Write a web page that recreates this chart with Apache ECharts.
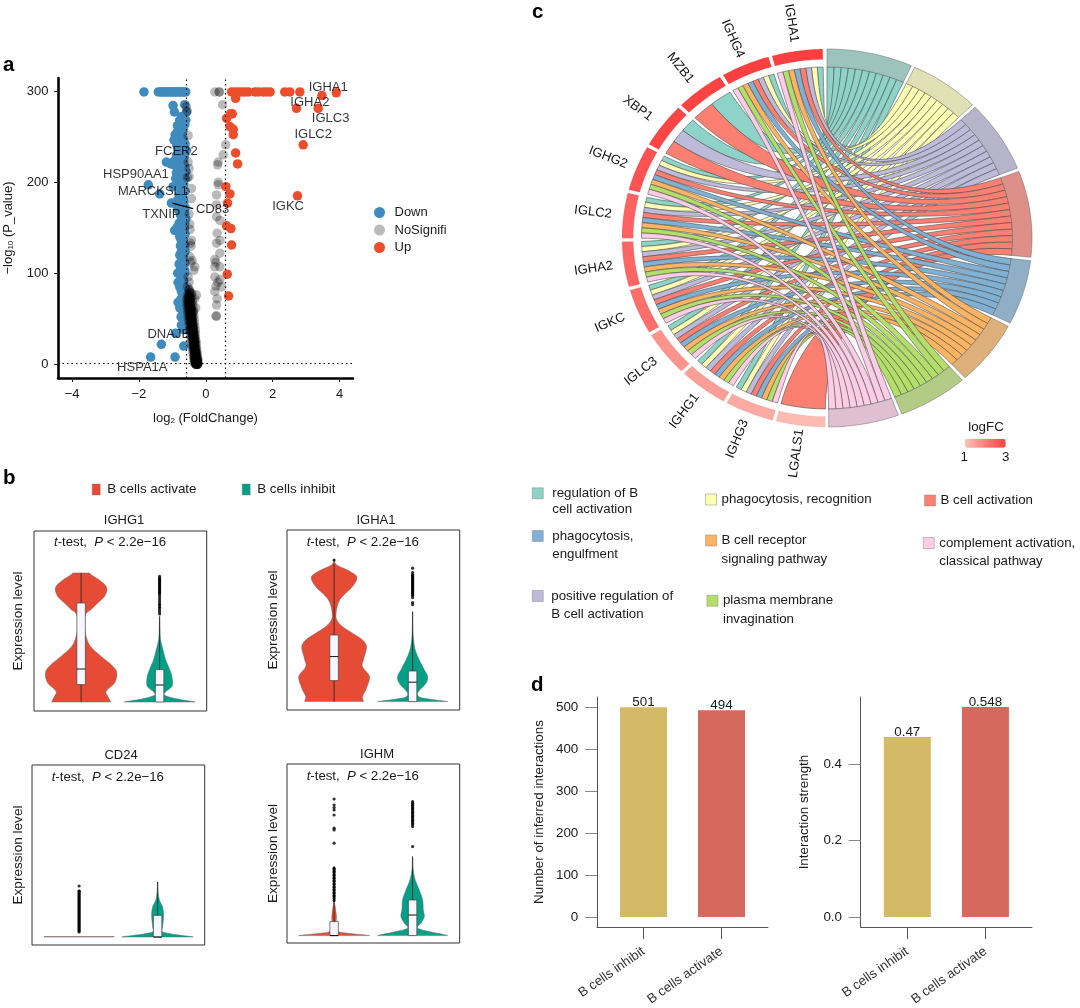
<!DOCTYPE html>
<html>
<head>
<meta charset="utf-8">
<style>html,body{margin:0;padding:0;background:#fff}#c{width:1080px;height:1008px}</style>
<script src="https://cdn.jsdelivr.net/npm/echarts@6/dist/echarts.min.js"></script>
</head>
<body>
<div id="c"></div>
<script>
const FONT = '"Liberation Sans", Arial, sans-serif';
// ---------- panel a: volcano ----------
const volcanoUp = [[.77,299],[.87,299],[.97,299],[1.07,299],[1.17,299],[1.27,299],[1.47,299],[1.57,299],[1.72,299],[1.82,299],[1.92,299],[2.36,299],[2.51,299],[2.81,299],[3.9,298],[3.47,295],[.89,292],[2.71,281],[3.36,281],[.74,275],[.79,275],[.62,270],[.72,261],[.82,258],[.82,252],[2.91,241],[.89,232],[.95,220],[.6,195],[.72,187],[2.74,185],[.65,177],[.62,152],[.75,149],[.77,131],[.64,99],[.68,75]];
const volcanoDown = [[-1.85,299],[-1.42,299],[-1.35,299],[-1.3,299],[-1.25,299],[-1.2,299],[-1.15,299],[-1.1,299],[-1.05,299],[-1,299],[-.95,299],[-.9,299],[-.85,299],[-.8,299],[-.75,299],[-.7,299],[-.65,299],[-.6,299],[-.98,284],[-.94,277],[-.63,285],[-.58,277],[-.7,266],[-.63,263],[-.67,258],[-.78,255],[-.72,252],[-.88,248],[-.68,248],[-.8,244],[-.73,239],[-.62,242],[-.58,235],[-.7,232],[-.64,228],[-1.18,222],[-.98,222],[-.85,226],[-.73,222],[-.63,217],[-.75,214],[-.88,210],[-.68,208],[-.62,204],[-1.72,197],[-1.38,187],[-.98,195],[-.68,191],[-.8,199],[-.74,184],[-1.03,177],[-.85,180],[-.78,174],[-.66,178],[-.63,166],[-.72,170],[-.73,158],[-.63,155],[-.66,162],[-.93,147],[-.73,146],[-.64,149],[-.73,136],[-.66,141],[-.63,131],[-.7,127],[-.73,124],[-.66,119],[-.73,114],[-.63,111],[-.68,106],[-.78,102],[-.63,100],[-.7,95],[-.83,90],[-.68,89],[-.62,84],[-.73,80],[-.66,75],[-.83,68],[-.63,67],[-.7,62],[-.68,56],[-.62,50],[-.73,43],[-.91,34],[-.66,38],[-1.33,22],[-.66,20],[-1.65,8],[-.92,8],
[-.85,262],[-.78,268],[-.72,272],[-.66,270],[-.6,268],[-.92,252],[-.84,256],[-.76,260],[-.95,246],[-.87,241],[-.78,247],[-.7,244],[-.64,236],[-.82,236],[-.76,232],[-.88,229],[-.8,227],[-.72,226],[-.66,222],[-1.05,220],[-.92,218],[-.82,216],[-.7,218],[-.6,212],[-.9,204],[-.82,206],[-.74,204],[-.66,198],[-.84,196],[-.76,193],[-.7,187],[-.62,190],[-.8,186],[-.68,182],[-.9,176],[-.72,178],[-.62,172],[-.84,170],[-.76,164],[-.68,168],[-.6,160],[-.8,155],[-.7,152],[-.86,150],[-.62,143],[-.78,140],[-.68,136],[-.76,130],[-.68,130],[-.62,124],[-.78,120],[-.7,116],[-.8,110],[-.72,107],[-.64,104],[-.84,100],[-.74,97],[-.66,92],[-.78,85],[-.7,82],[-.64,78],[-.74,72],[-.67,68],[-.78,62],[-.64,58],[-.74,52],[-.66,46]];
const volcanoNoSig = [[.27,299],[.4,299],[.4,299],[.5,285],[.59,241],[.52,230],[.37,222],[.35,219],[.37,200],[.37,197],[.32,186],[.32,175],[.32,162],[.42,158],[.34,144],[.32,133],[.42,136],[.42,122],[.27,115],[.27,107],[.3,112],[.42,107],[.27,96],[.42,93],[.36,90],[.47,85],[.27,80],[.3,86],[.32,65],[.34,72],[.32,53],[.3,53],[-.53,251],[-.58,283],[-.55,278],[-.53,222],[-.5,215],[-.55,205],[-.5,206],[-.43,193],[-.43,182],[-.5,165],[-.48,154],[-.47,148],[-.43,136],[-.46,133],[-.44,130],[-.48,118],[-.45,112],[-.41,114],[-.33,107],[-.36,103],[-.53,96],[-.5,90],[-.55,85],[-.28,76],[-.33,72],[-.42,78],[-.45,72],[-.3,62],[-.37,58]];
const volcanoCore = [[-.27,0],[-.25,0],[-.3,0],[-.26,0],[-.29,0],[-.28,1],[-.26,1],[-.29,1],[-.31,1],[-.27,1],[-.27,2],[-.3,2],[-.25,2],[-.28,3],[-.32,3],[-.26,3],[-.29,4],[-.27,4],[-.31,5],[-.27,5],[-.3,6],[-.33,6],[-.28,7],[-.31,8],[-.29,9],[-.33,9],[-.3,10],[-.34,11],[-.31,12],[-.29,12],[-.33,13],[-.3,14],[-.35,15],[-.32,15],[-.34,17],[-.31,18],[-.36,18],[-.33,20],[-.37,21],[-.35,22],[-.32,23],[-.38,24],[-.35,25],[-.33,26],[-.39,27],[-.36,28],[-.34,29],[-.4,30],[-.37,31],[-.35,32],[-.41,33],[-.38,34],[-.36,35],[-.42,36],[-.39,37],[-.37,38],[-.43,39],[-.4,40],[-.38,41],[-.44,42],[-.41,43],[-.39,44],[-.45,45],[-.42,46],[-.4,47],[-.46,48],[-.43,49],[-.41,50],[-.47,51],[-.44,52],[-.41,53],[-.48,54],[-.45,55],[-.42,56],[-.49,57],[-.46,58],[-.43,59],[-.5,60],[-.47,61],[-.44,62],[-.5,63],[-.47,64],[-.52,65],[-.48,66],[-.45,67],[-.5,68],[-.53,69],[-.47,70],[-.5,71],[-.48,72],[-.52,73],[-.49,75],[-.51,77],[-.48,79],[-.5,82]];
const volcanoCoreWide = [[-.23,0],[-.33,1],[-.24,2],[-.34,3],[-.23,4],[-.35,5],[-.24,6],[-.36,7],[-.25,8],[-.37,9],[-.26,10],[-.38,12],[-.26,13],[-.39,15],[-.27,16],[-.4,18],[-.28,19],[-.42,21],[-.28,23],[-.43,25],[-.3,26],[-.44,28],[-.31,30],[-.46,32],[-.31,34],[-.47,36],[-.32,38],[-.48,40],[-.33,42],[-.5,44],[-.34,46],[-.52,48],[-.35,50],[-.53,52],[-.36,54],[-.54,56],[-.37,58],[-.55,60],[-.38,62],[-.56,64],[-.39,66],[-.56,68],[-.4,70],[-.57,72],[-.42,74],[-.55,76],[-.44,78],[-.3,3],[-.28,6],[-.32,11],[-.36,24],[-.39,33],[-.42,44],[-.44,54],[-.47,62],[-.49,70]];
const volcanoLabels = [['IGHA1',3.66,304],['IGHA2',3.11,288],['IGLC3',3.73,270],['IGLC2',3.21,252],['FCER2',-.88,234],['HSP90AA1',-2.09,209],['MARCKSL1',-1.58,190],['CD83',.2,170],['TXNIP',-1.33,165],['IGKC',2.46,173],['DNAJB1',-1.0,33],['HSPA1A',-1.9,-3]];
const connector = [[-1.0,177],[-.38,171]];
// ---------- panel b: violins (level, relative half width) ----------
const violinPanels = ['IGHG1','IGHA1','CD24','IGHM'];
const igHG1Act = [[0,.88],[.28,.8],[.53,.75],[.95,1],[1.45,1.07],[1.78,.95],[2.28,.6],[2.78,.28],[3.28,.15],[3.78,.1],[4.12,.09],[4.45,.16],[4.62,.3],[4.95,.5],[5.28,.7],[5.7,.77],[6.03,.6],[6.45,.25]];
const igHG1Inh = [[0,1.06],[.1,.7],[.2,.4],[.33,.16],[.45,.15],[.78,.37],[1.28,.37],[1.62,.3],[2.12,.18],[2.62,.1],[3.12,.03],[3.62,.012],[4.28,.005]];
const igHA1Act = [[0,.88],[.25,.85],[.58,.95],[1.25,1.06],[1.75,.85],[2.08,.88],[2.75,.97],[3.08,.85],[3.42,.55],[3.75,.25],[4.08,.08],[4.42,.06],[4.92,.12],[5.25,.25],[5.75,.55],[6.25,.68],[6.58,.4],[6.83,.08],[7.08,.01]];
const igHA1Inh = [[0,1.05],[.1,.6],[.2,.25],[.33,.15],[.5,.18],[.92,.4],[1.25,.45],[1.58,.35],[2.08,.2],[2.58,.08],[3.08,.03],[3.58,.01],[4.5,.004]];
const cd24Act = [[0,1.05],[.02,1.05]];
const cd24Inh = [[0,1.07],[.13,.5],[.25,.15],[.5,.15],[1.08,.18],[1.5,.15],[1.83,.06],[2.17,.02],[2.75,.005]];
const ighmAct = [[0,1.06],[.12,.4],[.2,.12],[.45,.06],[.95,.07],[1.37,.04],[1.7,.01],[3.45,.003]];
const ighmInh = [[0,1.05],[.2,.5],[.37,.15],[.62,.25],[.95,.35],[1.28,.32],[1.78,.3],[2.28,.2],[2.78,.08],[3.28,.02],[3.95,.005]];
const violinProfiles = [[igHG1Act,igHG1Inh],[igHA1Act,igHA1Inh],[cd24Act,cd24Inh],[ighmAct,ighmInh]];
// whiskerLow, q1, median, q3, whiskerHigh ; null = no box
const violinBoxes = [
  [[0,.87,1.65,4.95,6.45],[0,0,.85,1.62,4.28]],
  [[0,1.05,2.25,3.33,6.9],[0,0,.97,1.53,4.5]],
  [null,[0,0,0,1.08,2.75]],
  [[0,0,0,.7,3.45],[0,0,1.03,1.78,3.95]]
];
const outG1Inh = [6.28,6.2,6.15,6.1,6.05,6,5.95,5.9,5.85,5.8,5.75,5.7,5.65,5.6,5.55,5.5,5.45,5.4,5.3,5.2,5.1,5,4.9,4.85,4.75,4.7,4.6,4.5,4.4];
const outA1Act = [7.08];
const outA1Inh = [6.67,6.45,6.35,6.3,6.25,6.2,6.15,6.1,6.05,6,5.95,5.9,5.85,5.8,5.75,5.7,5.65,5.6,5.55,5.5,5.45,5.4,5.35,5.3,5.2,4.95,4.85];
const outCD24Act = [2.55,2.3,2.3,2.25,2.2,2.15,2.1,2.05,2,1.95,1.9,1.85,1.8,1.75,1.7,1.65,1.6,1.55,1.5,1.45,1.4,1.35,1.3,1.25,1.2,1.15,1.1,1.05,1,.95,.9,.85,.8,.75,.7,.65,.6,.55,.5,.45,.4,.35,.3,.25];
const outM_Act = [6.83,6.53,6.4,6.28,6.03,5.37,5.28,4.62,3.37,3.3,3.22,3.15,3.05,3,2.9,2.85,2.75,2.7,2.6,2.55,2.45,2.4,2.3,2.25,2.15,2.1,2,1.95,1.85,1.75];
const outM_Inh = [6.7,6.62,6.55,6.5,6.42,6.35,6.3,6.22,6.15,6.1,6.02,5.95,5.9,5.82,5.75,5.7,5.62,5.55,5.45,4.45];
const violinOutliers = [[[],outG1Inh],[outA1Act,outA1Inh],[outCD24Act,[]],[outM_Act,outM_Inh]];
const violinGroups = ['B cells activate','B cells inhibit'];
// ---------- panel c: chord ----------
const terms = ['regulation of B cell activation','phagocytosis, recognition','positive regulation of B cell activation','B cell activation','phagocytosis, engulfment','B cell receptor signaling pathway','plasma membrane invagination','complement activation, classical pathway'];
const genes = ['IGHA1','IGHG4','MZB1','XBP1','IGHG2','IGLC2','IGHA2','IGKC','IGLC3','IGHG1','IGHG3','LGALS1'];
const logFC = [3,3,2.95,2.9,2.7,2.45,2.4,2.25,1.7,1.55,1.35,1.1];
const allTerms = [0,1,2,3,4,5,6,7];
const geneTerms = [allTerms,allTerms,[0,3],[0,2,3],allTerms,allTerms,allTerms,allTerms,allTerms,allTerms,allTerms,[3]];
// ---------- panel d: bars ----------
const barCats = ['B cells inhibit','B cells activate'];
const interactions = [501,494];
const strength = [0.47,0.548];

// ---------- styling (not data) ----------
const DOWN='#3F8BBD', UP='#EC4E2C';
const ACT='#E64B35', INH='#00A087';
const ribbonColors=['#8DD3C7','#FFFFB3','#BEBADA','#FB8072','#80B1D3','#FDB462','#B3DE69','#FCCDE5'];
const termRing=['#9CC4BC','#E0E0B4','#B6B4C9','#DE8F88','#90AEC6','#DDAF7B','#B2CB85','#DFBFD2'];
const BAR=['#D2BA67','#D6695E'];
const INK='#1a1a1a';
const violinRect=[[34,531],[287,530],[32,765],[287,764]];
const violinH=[180,180,180,179];
const violinMin=[-.45,-.42,-.4,-.37];
const violinNameGap=[9,7,7,7];
const titleXY=[[124,513.5],[376,513.5],[121,748.5],[377,747.5]];
const statXY=[[54,536],[306.7,536],[51.7,771],[306.7,770]];
// term index -> icon left, icon centre y, text nudge, line height
const legendPlace=[[532,493.3,4,16.5],[705.3,499.5,0,18],[532,596,3,18],[924.3,500.5,0,18],[532,536,4,18.5],[705.3,540.5,0,18.5],[706.7,600.7,0,18.5],[923,543,0,18.5]];
const legendText=['regulation of B\ncell activation','phagocytosis, recognition','positive regulation of\nB cell activation','B cell activation','phagocytosis,\nengulfment','B cell receptor\nsignaling pathway','plasma membrane\ninvagination','complement activation,\nclassical pathway'];

const grid=[],xAxis=[],yAxis=[],series=[],title=[],legend=[];
const addCart=(g,x,y)=>{grid.push(g);xAxis.push(Object.assign({gridIndex:grid.length-1},x));yAxis.push(Object.assign({gridIndex:grid.length-1},y));return grid.length-1;};

// panel a
const aTick={lineStyle:{color:'#222',width:1},length:4};
const nameRich={t:{fontFamily:FONT,fontSize:13,color:INK},s:{fontFamily:FONT,fontSize:8,color:INK,verticalAlign:'bottom',padding:[6,0,0,0]}};
const aIdx=addCart({left:58,top:78,width:295,height:300},
 {type:'value',min:-4.42,max:4.4,splitLine:{show:false},
  axisLine:{onZero:false,lineStyle:{color:'#000',width:2.6}},
  axisTick:Object.assign({customValues:[-4,-2,0,2,4]},aTick),
  axisLabel:{customValues:[-4,-2,0,2,4],fontFamily:FONT,fontSize:13,color:INK,margin:9.5,formatter:v=>String(v).replace('-','\u2212')},
  name:'{t|log}{s|2}{t| (FoldChange)}',nameLocation:'middle',nameGap:33,nameTextStyle:{rich:nameRich}},
 {type:'value',min:-15,max:314.3,splitLine:{show:false},
  axisLine:{onZero:false,lineStyle:{color:'#000',width:2.6}},
  axisTick:Object.assign({customValues:[0,100,200,300]},aTick),
  axisLabel:{customValues:[0,100,200,300],fontFamily:FONT,fontSize:13,color:INK,margin:9.5},
  name:'{t|\u2212log}{s|10}{t| (P_value)}',nameLocation:'middle',nameGap:43,nameTextStyle:{rich:nameRich}});
const scat=(name,data,color,op)=>({type:'scatter',name,xAxisIndex:aIdx,yAxisIndex:aIdx,data,symbolSize:9.5,itemStyle:{color,opacity:op},silent:true,animation:false});
const s1=scat('Down',volcanoDown,DOWN,1);
s1.markLine={silent:true,symbol:'none',animation:false,label:{show:false},lineStyle:{type:[1.5,3],color:'#000',width:1.2},data:[{xAxis:-.6},{xAxis:.59},{yAxis:1.3}]};
series.push(s1);
series.push(scat('NoSignifi',volcanoNoSig.concat(volcanoCore,volcanoCore,volcanoCoreWide),'#000',.27));
series.push(scat('Up',volcanoUp,UP,1));
series.push({type:'line',xAxisIndex:aIdx,yAxisIndex:aIdx,data:connector,symbol:'none',lineStyle:{color:'#000',width:1.2},silent:true,animation:false});
series.push({type:'scatter',xAxisIndex:aIdx,yAxisIndex:aIdx,symbolSize:1,itemStyle:{color:'transparent'},silent:true,animation:false,
 data:volcanoLabels.map(d=>({name:d[0],value:[d[1],d[2]]})),
 label:{show:true,position:'inside',formatter:'{b}',fontFamily:FONT,fontSize:13,color:'#000'}});
legend.push({data:[{name:'Down',icon:'circle'},{name:'NoSignifi',icon:'circle'},{name:'Up',icon:'circle'}],orient:'vertical',padding:0,left:374,top:206,itemWidth:20,itemHeight:11,itemGap:4.5,selectedMode:false,textStyle:{fontFamily:FONT,fontSize:13,color:INK}});

// panel b
const catmull=(pts,n)=>{const out=[];for(let i=0;i<pts.length-1;i++){const p0=pts[Math.max(i-1,0)],p1=pts[i],p2=pts[i+1],p3=pts[Math.min(i+2,pts.length-1)];
 for(let k=0;k<n;k++){const t=k/n,t2=t*t,t3=t2*t;const w=.5*((2*p1[1])+(-p0[1]+p2[1])*t+(2*p0[1]-5*p1[1]+4*p2[1]-p3[1])*t2+(-p0[1]+3*p1[1]-3*p2[1]+p3[1])*t3);out.push([p1[0]+(p2[0]-p1[0])*t,Math.max(w,0)]);}}
 out.push(pts[pts.length-1]);return out;};
const VK=.4255;
violinPanels.forEach((nm,pi)=>{
 const r=violinRect[pi];
 const idx=addCart({left:r[0],top:r[1],width:172.7,height:violinH[pi],show:true,borderColor:'#333',borderWidth:1,backgroundColor:'transparent'},
  {type:'value',min:.4,max:2.6,axisLine:{show:false},axisTick:{show:false},axisLabel:{show:false},splitLine:{show:false}},
  {type:'value',min:violinMin[pi],max:violinMin[pi]+violinH[pi]/20,axisLine:{show:false},axisTick:{show:false},axisLabel:{show:false},splitLine:{show:false},
   name:'Expression level',nameLocation:'middle',nameGap:violinNameGap[pi],nameTextStyle:{fontFamily:FONT,fontSize:13.6,color:INK}});
 title.push({text:nm,left:titleXY[pi][0],top:titleXY[pi][1],padding:0,textAlign:'center',textStyle:{fontFamily:FONT,fontSize:13,fontWeight:'normal',color:INK}});
 title.push({text:'{i|t}-test,  {i|P} < 2.2e\u221216',left:statXY[pi][0],top:statXY[pi][1],padding:0,textStyle:{fontFamily:FONT,fontSize:13.2,fontWeight:'normal',color:INK,rich:{i:{fontFamily:FONT,fontSize:13.2,fontStyle:'italic',color:INK}}}});
 [0,1].forEach(g=>{
  const prof=violinProfiles[pi][g],c=g+1,col=g?INH:ACT,box=violinBoxes[pi][g];
  series.push({type:'custom',name:violinGroups[g],xAxisIndex:idx,yAxisIndex:idx,data:[[c,0]],itemStyle:{color:col},silent:true,animation:false,clip:false,
   renderItem:(p,api)=>{
    const smooth=prof.length>2?catmull(prof,6):prof;
    const L=smooth.map(d=>api.coord([c-d[1]*VK,d[0]]));
    const R=smooth.map(d=>api.coord([c+d[1]*VK,d[0]])).reverse();
    const kids=[{type:'polygon',shape:{points:L.concat(R)},style:{fill:col,stroke:'#6b6b6b',lineWidth:.5}}];
    if(box){
     const w=.054;
     const a=api.coord([c,box[0]]),b=api.coord([c,box[4]]);
     kids.push({type:'line',shape:{x1:a[0],y1:a[1],x2:b[0],y2:b[1]},style:{stroke:'#222',lineWidth:.8}});
     const p1=api.coord([c-w,box[3]]),p2=api.coord([c+w,box[1]]);
     kids.push({type:'rect',shape:{x:p1[0],y:p1[1],width:p2[0]-p1[0],height:p2[1]-p1[1]},style:{fill:'#F6F6FF',stroke:'#444',lineWidth:.7}});
     const m1=api.coord([c-w,box[2]]),m2=api.coord([c+w,box[2]]);
     kids.push({type:'line',shape:{x1:m1[0],y1:m1[1],x2:m2[0],y2:m2[1]},style:{stroke:'#111',lineWidth:1}});
    }
    return {type:'group',children:kids};
   }});
  series.push({type:'scatter',xAxisIndex:idx,yAxisIndex:idx,data:violinOutliers[pi][g].map(v=>[c,v]),symbolSize:3.2,itemStyle:{color:'#000'},silent:true,animation:false});
 });
});
[[0,92],[1,242]].forEach(d=>legend.push({data:[{name:violinGroups[d[0]],icon:'rect'}],padding:0,left:d[1],top:483,itemWidth:8,itemHeight:11,selectedMode:false,textStyle:{fontFamily:FONT,fontSize:13.4,color:INK,padding:[0,0,0,2]},itemStyle:{borderColor:'#777',borderWidth:.4}}));

// panel c
const GENE_R0=.945,TERM_R0=.905,GAP=1.05,CURVE=.42;
const geneStart=a=>1.2+(180-1.2)/genes.length*a;
const termUnits=terms.map((t,j)=>geneTerms.filter(l=>l.includes(j)).length);
const unitDeg=(179.5-(terms.length-1)*GAP)/termUnits.reduce((a,b)=>a+b,0);
const termAng=[];let acc=0;termUnits.forEach(u=>{termAng.push([acc,acc+u*unitDeg]);acc+=u*unitDeg+GAP;});
const pol=(deg,r)=>{const a=deg*Math.PI/180;return [r*Math.sin(a),r*Math.cos(a)];};
const arcPts=(d0,d1,r,n)=>{const o=[];for(let i=0;i<=n;i++)o.push(pol(d0+(d1-d0)*i/n,r));return o;};
const bez=(a,b,n)=>{const o=[];for(let i=1;i<n;i++){const t=i/n,u=1-t,q=u*u*u+3*u*u*t*CURVE,w=t*t*t+3*u*t*t*CURVE;o.push([q*a[0]+w*b[0],q*a[1]+w*b[1]]);}return o;};
const termCursor=terms.map(()=>0);
const links=terms.map(()=>[]);
geneTerms.forEach((list,g)=>{
 const g0=geneStart(g)+ (g?GAP/2:0), g1=geneStart(g+1)-GAP/2;
 const w=(g1-g0)/list.length;
 list.forEach((j,k)=>{
  const t0=termAng[j][0]+termCursor[j]*unitDeg; termCursor[j]++;
  links[j].push({ga:-(g0+k*w),gb:-(g0+(k+1)*w),ta:t0,tb:t0+unitDeg});
 });
});
const cIdx=addCart({left:622,top:49,width:410,height:378},
 {type:'value',min:-1,max:1,show:false},{type:'value',min:-1,max:1,show:false});
terms.forEach((t,j)=>{
 series.push({type:'custom',name:t,xAxisIndex:cIdx,yAxisIndex:cIdx,data:links[j].map((l,i)=>[i,0]),itemStyle:{color:ribbonColors[j]},silent:true,animation:false,clip:false,z:3,
  renderItem:(p,api)=>{
   const l=links[j][api.value(0)];
   const A=arcPts(l.ga,l.gb,TERM_R0,5);
   const B=arcPts(l.tb,l.ta,TERM_R0,5);
   const pts=A.concat(bez(A[5],B[0],40),B,bez(B[5],A[0],40)).map(q=>api.coord(q));
   return {type:'polygon',shape:{points:pts},style:{fill:ribbonColors[j],stroke:'#444',lineWidth:.55}};
  }});
});
const ringSeries=(name,data,draw)=>({type:'custom',name,xAxisIndex:cIdx,yAxisIndex:cIdx,data,silent:true,animation:false,clip:false,z:4,renderItem:draw});
series.push(ringSeries('termRing',terms.map((t,j)=>[j,0]),(p,api)=>{
 const j=api.value(0),[a,b]=termAng[j];
 const pts=arcPts(a,b,1,30).concat(arcPts(b,a,TERM_R0,30)).map(q=>api.coord(q));
 return {type:'polygon',shape:{points:pts},style:{fill:termRing[j],stroke:'#6a6a6a',lineWidth:.5}};
}));
const geneRingIdx=series.length;
series.push(Object.assign(ringSeries('geneRing',genes.map((g,i)=>[i,logFC[i]]),(p,api)=>{
 const i=api.value(0);
 const a=geneStart(i)+(i?GAP/2:0),b=geneStart(i+1)-GAP/2;
 const pts=arcPts(-a,-b,1,24).concat(arcPts(-b,-a,GENE_R0,24)).map(q=>api.coord(q));
 return {type:'polygon',shape:{points:pts},style:{fill:api.visual('color'),stroke:'rgba(120,120,120,.35)',lineWidth:.3}};
}),{encode:{value:1}}));
series.push(ringSeries('geneLabel',genes.map((g,i)=>[i,0]),(p,api)=>{
 const i=api.value(0),mid=(geneStart(i)+geneStart(i+1))/2;
 const c=api.coord(pol(-mid,1.15));
 return {type:'text',x:c[0],y:c[1],rotation:(mid-90)*Math.PI/180,style:{text:genes[i],fontFamily:FONT,fontSize:13,fill:'#111',align:'center',verticalAlign:'middle'}};
}));
terms.forEach((t,ti)=>{
 const pl=legendPlace[ti];const two=legendText[ti].includes('\n');
 legend.push({data:[{name:t,icon:'rect'}],padding:0,left:pl[0],top:pl[1]-(two?pl[3]*1.5:pl[3]/2),itemWidth:11,itemHeight:11,itemGap:0,selectedMode:false,
  itemStyle:{borderColor:'#888',borderWidth:.5},
  formatter:()=>two?'\n'+legendText[ti]:legendText[ti],
  textStyle:{fontFamily:FONT,fontSize:13.3,color:INK,lineHeight:pl[3],padding:[0,0,0,pl[2]]}});
});

// panel d
const barAxisX=()=>({type:'value',min:.404,max:2.596,splitLine:{show:false},
 axisLine:{onZero:false,lineStyle:{color:'#555',width:1}},
 axisTick:{customValues:[1,2],length:12,lineStyle:{color:'#555'}},
 axisLabel:{customValues:[1,2],rotate:35,fontFamily:FONT,fontSize:13.3,color:'#333',margin:23,formatter:v=>barCats[v-1]}});
const barAxisY=(name,min,max,ticks,fmt,gap)=>({type:'value',min,max,splitLine:{show:false},
 axisLine:{onZero:false,lineStyle:{color:'#555',width:1}},
 axisTick:{customValues:ticks,length:12,lineStyle:{color:'#888'}},
 axisLabel:{customValues:ticks,fontFamily:FONT,fontSize:13.4,color:INK,margin:18.7,formatter:fmt},
 name,nameLocation:'middle',nameGap:gap,nameTextStyle:{fontFamily:FONT,fontSize:13.4,color:INK}});
const d1=addCart({left:597,top:697,width:171,height:230.7},barAxisX(),barAxisY('Number of inferred interactions',-23.8,525.5,[0,100,200,300,400,500],v=>String(v),51));
const d2=addCart({left:860.7,top:697,width:171.3,height:230.7},barAxisX(),barAxisY('Interaction strength',-.026,.5744,[0,.2,.4],v=>v.toFixed(1),50));
const bars=(idx,vals,fmt)=>({type:'bar',xAxisIndex:idx,yAxisIndex:idx,barWidth:47,silent:true,animation:false,
 data:vals.map((v,i)=>({value:[i+1,v],itemStyle:{color:BAR[i]}})),
 label:{show:true,position:'top',distance:-2,fontFamily:FONT,fontSize:13.4,color:INK,formatter:q=>fmt(q.value[1])}});
series.push(bars(d1,interactions,String));
series.push(bars(d2,strength,String));

// letters and small texts
const T=(text,x,y,size,weight,extra)=>({type:'text',x,y,style:Object.assign({text,fontFamily:FONT,fontSize:size,fontWeight:weight||'normal',fill:'#000',verticalAlign:'middle'},extra||{})});
const graphic=[T('a',3,65,20.5,'bold'),T('b',3,478,20.5,'bold'),T('c',532,12,20.5,'bold'),T('d',531,685,20.5,'bold'),
 T('logFC',986,427.3,13.3,'normal',{align:'center',fill:INK}),T('1',964.3,457.3,13.3,'normal',{align:'center',fill:INK}),T('3',1005.7,457.3,13.3,'normal',{align:'center',fill:INK})];

const chart=echarts.init(document.getElementById('c'),null,{renderer:'canvas'});
chart.setOption({animation:false,backgroundColor:'#fff',textStyle:{fontFamily:FONT},title,grid,xAxis,yAxis,legend,series,graphic,
 visualMap:[{type:'continuous',seriesIndex:geneRingIdx,dimension:1,min:1,max:3,orient:'horizontal',padding:0,left:965,top:438.7,itemWidth:9,itemHeight:40.7,text:null,showLabel:false,calculable:false,realtime:false,inRange:{color:['#FFC0B8','#FF3F3F']},textStyle:{fontSize:0},formatter:()=>''}]});
</script>
</body>
</html>
